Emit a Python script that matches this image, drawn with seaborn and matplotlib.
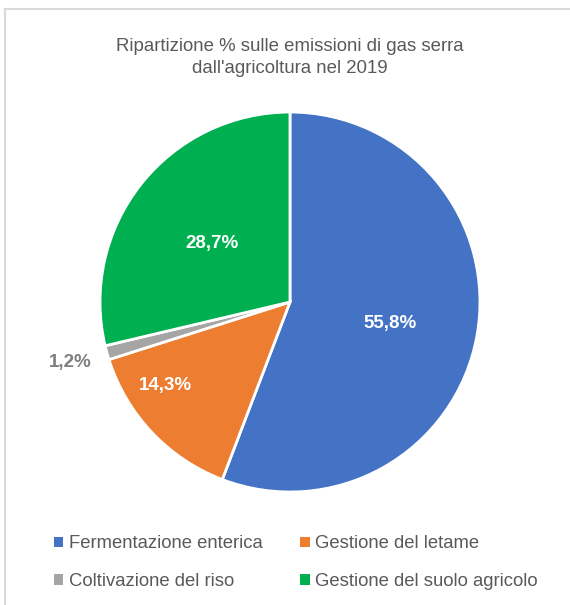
import matplotlib

matplotlib.use("Agg")
import matplotlib.pyplot as plt
import numpy as np
import seaborn as sns
from matplotlib.lines import Line2D
from matplotlib.patches import Patch


categories = [
    "Fermentazione enterica",
    "Gestione del letame",
    "Coltivazione del riso",
    "Gestione del suolo agricolo",
]
shares = [55.8, 14.3, 1.2, 28.7]
share_labels = ["55,8%", "14,3%", "1,2%", "28,7%"]
colors = ["#4472C4", "#ED7D31", "#A5A5A5", "#00B050"]
label_colors = ["white", "white", "#7f7f7f", "white"]
# distance from center (fraction of radius) and angle shift for each label
label_radius = [0.54, 0.79, 1.2, 0.51]
label_shift = [-1.5, -9.5, 0.0, 1.5]

TEXT = "#595959"

sns.set_theme(style="white")
plt.rcParams["font.family"] = ["Liberation Sans", "DejaVu Sans"]

fig = plt.figure(figsize=(5.70, 6.05), dpi=100)
ax = fig.add_axes([0.1754, 0.1868, 0.6667, 0.628])

wedges, _ = ax.pie(
    shares,
    colors=colors,
    startangle=90,
    counterclock=False,
    wedgeprops={"edgecolor": "white", "linewidth": 2},
)
ax.set_xlim(-1, 1)
ax.set_ylim(-1, 1)
ax.set_aspect("equal")

for wedge, text, color, dist, shift in zip(wedges, share_labels, label_colors, label_radius, label_shift):
    mid = np.deg2rad((wedge.theta1 + wedge.theta2) / 2 + shift)
    ax.text(
        dist * np.cos(mid),
        dist * np.sin(mid),
        text,
        ha="center",
        va="center",
        color=color,
        fontsize=13.5,
        fontweight="bold",
        clip_on=False,
    )

fig.text(
    0.508,
    0.905,
    "Ripartizione % sulle emissioni di gas serra\ndall'agricoltura nel 2019",
    ha="center",
    va="center",
    fontsize=13.4,
    color=TEXT,
    linespacing=1.45,
)

# matplotlib fills legend columns first, so reorder to get row order
order = [0, 2, 1, 3]
handles = [Patch(facecolor=colors[i], edgecolor="none") for i in order]
fig.legend(
    handles,
    [categories[i] for i in order],
    loc="center",
    bbox_to_anchor=(0.519, 0.070),
    ncol=2,
    frameon=False,
    fontsize=13.3,
    labelcolor=TEXT,
    handlelength=0.5,
    handleheight=0.5,
    handletextpad=0.3,
    columnspacing=2.05,
    labelspacing=1.1,
)

# light frame lines on the top and left edges
fig.add_artist(Line2D([0.009, 1.0], [0.985, 0.985], color="#d9d9d9", linewidth=1.5, transform=fig.transFigure))
fig.add_artist(Line2D([0.009, 0.009], [0.0, 0.985], color="#d9d9d9", linewidth=1.5, transform=fig.transFigure))

fig.savefig("out.png", dpi=100, facecolor="white")
